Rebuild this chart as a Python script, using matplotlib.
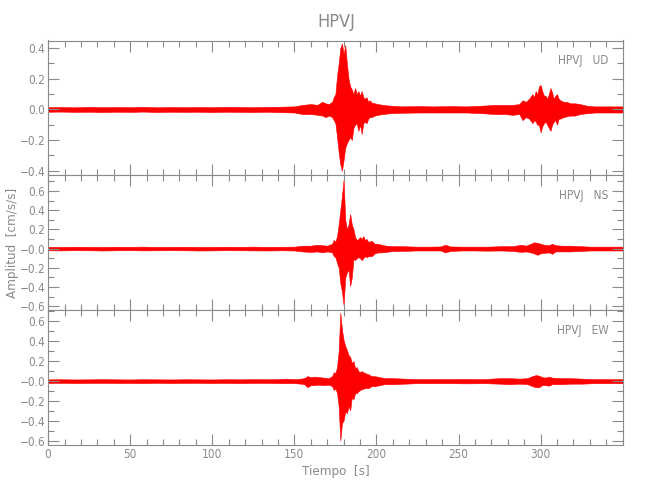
import numpy as np
import matplotlib
matplotlib.use('Agg')
import matplotlib.pyplot as plt
from matplotlib.ticker import MultipleLocator

# narrow font, close to the thin IDL-style font of the original
plt.rcParams['font.family'] = ['DejaVu Sans Condensed', 'Liberation Sans Narrow', 'DejaVu Sans']
plt.rcParams['font.stretch'] = 'condensed'
gray = '#8a8a8a'

station = 'HPVJ'
components = ['UD', 'NS', 'EW']

# envelope of each trace: time (s), upper and lower peaks
ud_t = [0, 8, 16, 25, 33, 42, 50, 58, 67, 75, 83, 92, 100, 108, 117, 125, 133, 142,
        150, 155, 160, 164, 167, 169, 171, 173, 174, 175, 176, 177, 178, 179, 180,
        181, 182, 183, 184, 185, 186, 187, 188, 189, 190, 191, 192, 193, 194, 195,
        196, 197, 199, 201, 204, 208, 215, 225, 235, 245, 255, 265, 272, 278, 283,
        287, 289, 291, 293, 295, 296, 297, 298, 299, 300, 301, 302, 303, 304, 305,
        306, 307, 308, 309, 310, 311, 312, 314, 316, 318, 321, 324, 328, 333, 340, 350]
ud_hi = [0.015, 0.016, 0.014, 0.017, 0.015, 0.016, 0.015, 0.017, 0.014, 0.016, 0.015, 0.016, 0.015, 0.017, 0.016, 0.015, 0.017, 0.018,
         0.02, 0.03, 0.035, 0.03, 0.05, 0.04, 0.035, 0.05, 0.08, 0.10, 0.22, 0.30, 0.40, 0.43, 0.36,
         0.42, 0.30, 0.20, 0.15, 0.13, 0.10, 0.14, 0.10, 0.12, 0.09, 0.12, 0.08, 0.07, 0.08, 0.05,
         0.06, 0.045, 0.04, 0.035, 0.03, 0.025, 0.02, 0.022, 0.02, 0.022, 0.02, 0.025, 0.03, 0.03, 0.03,
         0.035, 0.06, 0.05, 0.07, 0.10, 0.08, 0.12, 0.10, 0.15, 0.16, 0.12, 0.09, 0.09, 0.07, 0.10,
         0.14, 0.11, 0.07, 0.09, 0.10, 0.07, 0.06, 0.05, 0.05, 0.04, 0.04, 0.035, 0.025, 0.02, 0.02, 0.02]
ud_lo = [-0.015, -0.014, -0.016, -0.015, -0.017, -0.015, -0.016, -0.014, -0.017, -0.015, -0.016, -0.015, -0.017, -0.015, -0.016, -0.017, -0.015, -0.018,
         -0.02, -0.03, -0.03, -0.035, -0.04, -0.05, -0.04, -0.05, -0.07, -0.09, -0.18, -0.28, -0.36, -0.40, -0.33,
         -0.25, -0.22, -0.20, -0.18, -0.20, -0.12, -0.10, -0.09, -0.14, -0.10, -0.16, -0.09, -0.08, -0.09, -0.06,
         -0.05, -0.05, -0.04, -0.035, -0.03, -0.025, -0.022, -0.02, -0.02, -0.02, -0.02, -0.025, -0.03, -0.03, -0.035,
         -0.03, -0.07, -0.05, -0.06, -0.09, -0.07, -0.08, -0.10, -0.10, -0.15, -0.11, -0.09, -0.08, -0.10, -0.12,
         -0.14, -0.10, -0.08, -0.07, -0.10, -0.06, -0.06, -0.05, -0.045, -0.04, -0.04, -0.03, -0.025, -0.02, -0.02, -0.02]

ns_t = [0, 8, 16, 25, 33, 42, 50, 58, 67, 75, 83, 92, 100, 108, 117, 125, 133, 142,
        150, 155, 160, 164, 167, 170, 173, 174, 175, 176, 177, 178, 179, 180, 181,
        182, 183, 184, 185, 186, 187, 188, 189, 190, 191, 192, 193, 194, 195, 197,
        199, 201, 203, 206, 210, 216, 224, 232, 239, 242, 245, 252, 260, 268, 276,
        283, 288, 291, 294, 296, 298, 300, 302, 305, 307, 309, 313, 318, 324, 330, 340, 350]
ns_hi = [0.018, 0.017, 0.019, 0.018, 0.017, 0.019, 0.018, 0.02, 0.017, 0.018, 0.019, 0.017, 0.018, 0.019, 0.018, 0.02, 0.018, 0.019,
         0.02, 0.03, 0.03, 0.04, 0.035, 0.03, 0.05, 0.09, 0.07, 0.13, 0.25, 0.40, 0.55, 0.72, 0.30,
         0.20, 0.25, 0.36, 0.25, 0.20, 0.12, 0.09, 0.10, 0.12, 0.10, 0.13, 0.09, 0.10, 0.07, 0.08,
         0.05, 0.05, 0.04, 0.03, 0.025, 0.025, 0.02, 0.02, 0.022, 0.04, 0.022, 0.02, 0.02, 0.02, 0.025,
         0.025, 0.04, 0.03, 0.05, 0.065, 0.06, 0.05, 0.04, 0.035, 0.05, 0.035, 0.03, 0.03, 0.025, 0.02, 0.02, 0.02]
ns_lo = [-0.018, -0.019, -0.017, -0.018, -0.02, -0.018, -0.017, -0.019, -0.018, -0.017, -0.018, -0.02, -0.019, -0.017, -0.018, -0.019, -0.02, -0.018,
         -0.02, -0.03, -0.035, -0.03, -0.04, -0.03, -0.04, -0.08, -0.09, -0.15, -0.20, -0.36, -0.45, -0.59, -0.30,
         -0.25, -0.22, -0.39, -0.30, -0.11, -0.12, -0.10, -0.09, -0.10, -0.12, -0.10, -0.08, -0.09, -0.08, -0.08,
         -0.05, -0.04, -0.04, -0.035, -0.025, -0.025, -0.02, -0.02, -0.02, -0.04, -0.025, -0.02, -0.02, -0.022, -0.02,
         -0.025, -0.035, -0.03, -0.04, -0.05, -0.065, -0.05, -0.045, -0.04, -0.055, -0.03, -0.03, -0.03, -0.025, -0.02, -0.02, -0.02]

ew_t = [0, 8, 16, 25, 33, 42, 50, 58, 67, 75, 83, 92, 100, 108, 117, 125, 133, 140,
        145, 150, 154, 156, 158, 160, 162, 165, 168, 171, 173, 174, 175, 176, 177,
        178, 179, 180, 181, 182, 183, 184, 185, 186, 187, 188, 189, 190, 191, 193,
        195, 197, 199, 202, 205, 210, 217, 225, 235, 245, 255, 265, 275, 281, 287,
        292, 295, 297, 299, 301, 303, 305, 307, 312, 318, 325, 333, 342, 350]
ew_hi = [0.018, 0.019, 0.017, 0.018, 0.02, 0.018, 0.017, 0.019, 0.018, 0.017, 0.019, 0.018, 0.017, 0.019, 0.018, 0.02, 0.019, 0.02,
         0.025, 0.02, 0.025, 0.03, 0.05, 0.04, 0.045, 0.04, 0.035, 0.03, 0.05, 0.09, 0.08, 0.14, 0.30,
         0.68, 0.51, 0.41, 0.35, 0.31, 0.26, 0.24, 0.18, 0.20, 0.13, 0.14, 0.10, 0.09, 0.10, 0.08,
         0.07, 0.05, 0.05, 0.04, 0.03, 0.03, 0.025, 0.02, 0.022, 0.02, 0.022, 0.02, 0.03, 0.03, 0.025,
         0.03, 0.05, 0.06, 0.055, 0.04, 0.035, 0.045, 0.035, 0.03, 0.03, 0.025, 0.02, 0.02, 0.02]
ew_lo = [-0.018, -0.017, -0.019, -0.018, -0.017, -0.019, -0.018, -0.02, -0.017, -0.019, -0.018, -0.017, -0.019, -0.018, -0.02, -0.018, -0.017, -0.02,
         -0.02, -0.02, -0.025, -0.03, -0.06, -0.04, -0.04, -0.035, -0.04, -0.035, -0.05, -0.09, -0.07, -0.12, -0.25,
         -0.59, -0.42, -0.39, -0.30, -0.32, -0.25, -0.29, -0.16, -0.18, -0.12, -0.12, -0.10, -0.09, -0.08, -0.07,
         -0.07, -0.05, -0.05, -0.04, -0.03, -0.03, -0.025, -0.02, -0.02, -0.02, -0.022, -0.02, -0.025, -0.03, -0.025,
         -0.03, -0.05, -0.06, -0.06, -0.04, -0.04, -0.045, -0.03, -0.03, -0.025, -0.025, -0.02, -0.02, -0.02]

traces = [(ud_t, ud_hi, ud_lo), (ns_t, ns_hi, ns_lo), (ew_t, ew_hi, ew_lo)]
ylims = [(-0.43, 0.45), (-0.641, 0.762), (-0.635, 0.706)]
yticks = [[-0.4, -0.2, 0.0, 0.2, 0.4], [-0.6, -0.4, -0.2, 0.0, 0.2, 0.4, 0.6], [-0.6, -0.4, -0.2, 0.0, 0.2, 0.4, 0.6]]
ylabels = [['\u22120.4', '\u22120.2', '0.0', '0.2', '0.4'],
           ['\u22120.6', '\u22120.4', '\u22120.2', '\u22120.0', '0.2', '0.4', '0.6'],
           ['\u22120.6', '\u22120.4', '\u22120.2', '\u22120.0', '0.2', '0.4', '0.6']]
xticks = [0, 50, 100, 150, 200, 250, 300]

fig, axes = plt.subplots(3, 1, sharex=True, figsize=(6.5, 5), dpi=100)
fig.subplots_adjust(left=0.074, right=0.958, top=0.919, bottom=0.11, hspace=0)

for i, ax in enumerate(axes):
    t, hi, lo = traces[i]
    # the dense waveform drawn as the band between its upper and lower peaks
    ax.fill_between(t, lo, hi, color='red', lw=0.4)

    ax.set_xlim(0, 350)
    ax.set_ylim(*ylims[i])
    ax.set_yticks(yticks[i])
    ax.set_yticklabels(ylabels[i])
    ax.set_xticks(xticks)
    ax.xaxis.set_minor_locator(MultipleLocator(10))
    ax.yaxis.set_minor_locator(MultipleLocator(0.1))
    ax.tick_params(which='both', direction='in', top=True, right=True, colors=gray,
                   labelsize=8.5, labelcolor=gray, width=0.8, pad=2)
    ax.tick_params(which='major', length=8)
    ax.tick_params(which='minor', length=4)
    for s in ax.spines.values():
        s.set_color(gray)
        s.set_linewidth(0.8)
    ax.text(0.975, 0.85, station + '   ' + components[i], transform=ax.transAxes,
            ha='right', va='center', fontsize=8.5, color=gray)

fig.text(0.517, 0.956, station, ha='center', va='center', fontsize=13, color=gray)
fig.text(0.517, 0.057, 'Tiempo  [s]', ha='center', va='center', fontsize=9.5, color=gray)
fig.text(0.02, 0.514, 'Amplitud  [cm/s/s]', ha='center', va='center', rotation=90,
         fontsize=9.5, color=gray)

plt.savefig('out.png', dpi=100)
